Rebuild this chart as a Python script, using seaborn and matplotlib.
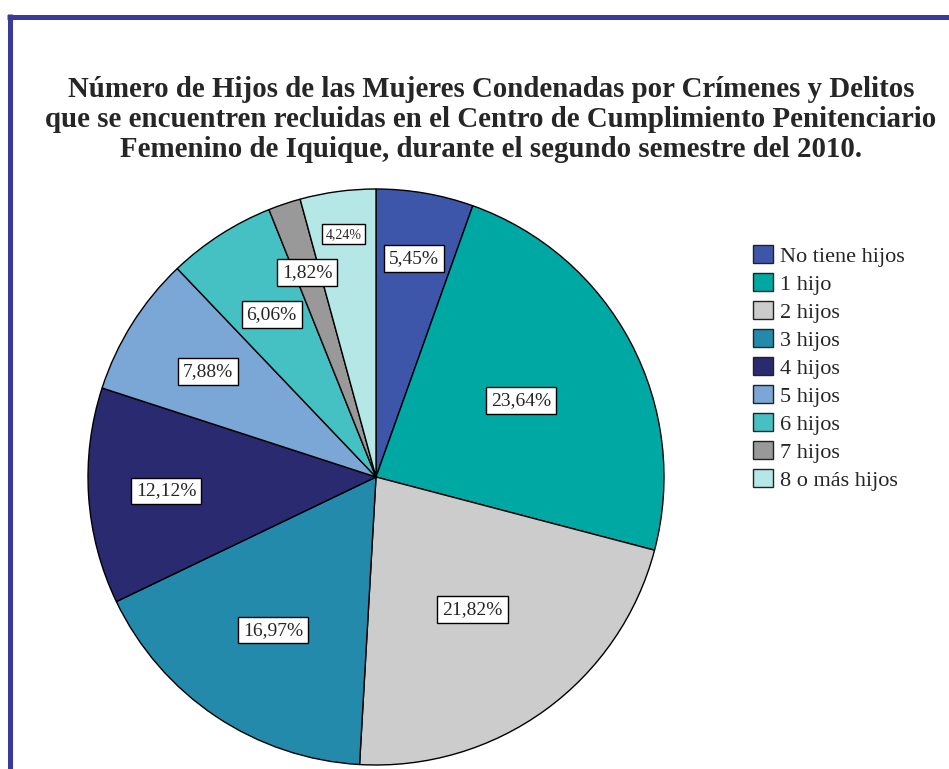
import seaborn
import matplotlib
matplotlib.use("Agg")
import matplotlib.pyplot as plt
from matplotlib.lines import Line2D
import numpy

# data: number of women per category (165 in total)
categories = ["No tiene hijos", "1 hijo", "2 hijos", "3 hijos", "4 hijos",
              "5 hijos", "6 hijos", "7 hijos", "8 o más hijos"]
counts = [9, 39, 36, 28, 20, 13, 10, 3, 7]
colors = ["#3d56aa", "#00a8a4", "#cccccc", "#238aab", "#2a2a70",
          "#7aa7d5", "#45c1c3", "#999999", "#b5e7e7"]

# radial position of each percentage label (fraction of radius)
label_radius = [0.77, 0.57, 0.57, 0.64, 0.73, 0.69, 0.67, 0.75, 0.85]
label_size = [14, 14, 14, 14, 14, 14, 14, 14, 10]

seaborn.set_style("white")
plt.rcParams["font.family"] = ["Liberation Serif", "DejaVu Serif"]

W, H = 949, 769
fig = plt.figure(figsize=(W / 100, H / 100), dpi=100)

# frame lines (top and left)
frame_color = "#3a3a98"
fig.add_artist(Line2D([7 / W, 1.0], [1 - 16.5 / H, 1 - 16.5 / H],
                      color=frame_color, lw=3.6, solid_capstyle="butt"))
fig.add_artist(Line2D([9.5 / W, 9.5 / W], [0.0, 1 - 14 / H],
                      color=frame_color, lw=3.6, solid_capstyle="butt"))

# title
fig.text(491 / W, 1 - 119.5 / H,
         "Número de Hijos de las Mujeres Condenadas por Crímenes y Delitos\n"
         "que se encuentren recluidas en el Centro de Cumplimiento Penitenciario\n"
         "Femenino de Iquique, durante el segundo semestre del 2010.",
         ha="center", va="center", fontsize=20.8, fontweight="bold",
         linespacing=1.13)

# pie
cx, cy, r = 376, 477, 288
ax = fig.add_axes([(cx - r) / W, (H - cy - r) / H, 2 * r / W, 2 * r / H])
wedges, _ = ax.pie(counts, colors=colors, startangle=90, counterclock=False,
                   wedgeprops=dict(edgecolor="black", linewidth=1))
ax.set_xlim(-1, 1)
ax.set_ylim(-1, 1)
ax.set_aspect("auto")

total = sum(counts)
for w, c, rr, fs in zip(wedges, counts, label_radius, label_size):
    ang = numpy.deg2rad((w.theta1 + w.theta2) / 2)
    txt = f"{100 * c / total:.2f}".replace(".", ",") + "%"
    ax.text(rr * numpy.cos(ang), rr * numpy.sin(ang), txt,
            ha="center", va="center", fontsize=fs,
            bbox=dict(boxstyle="square,pad=0.25", fc="white", ec="black", lw=1))

# legend
leg = fig.legend(wedges, categories, loc="upper left",
                 bbox_to_anchor=(744 / W, 1 - 236 / H), frameon=False,
                 fontsize=16, handlelength=0.9, handleheight=0.9,
                 handletextpad=0.3, labelspacing=0.275, borderaxespad=0)
for h in leg.legend_handles:
    h.set_edgecolor("#222222")
    h.set_linewidth(1)

fig.savefig("out.png", dpi=100)
